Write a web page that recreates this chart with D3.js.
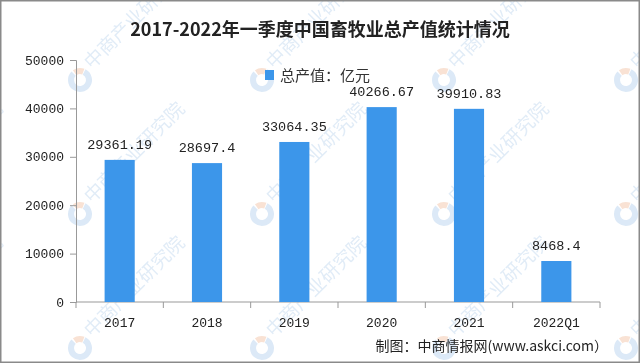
<!DOCTYPE html>
<html><head><meta charset="utf-8">
<script src="https://cdn.jsdelivr.net/npm/d3@7/dist/d3.min.js"></script>
<style>body{margin:0;background:#fff}svg{display:block}</style>
</head><body>
<svg id="c" width="640" height="363"></svg>
<script>
const categories = ["2017","2018","2019","2020","2021","2022Q1"];
const values = [29361.19, 28697.4, 33064.35, 40266.67, 39910.83, 8468.4];
const valueLabels = ["29361.19","28697.4","33064.35","40266.67","39910.83","8468.4"];
const yTicks = [0,10000,20000,30000,40000,50000];
const title = "2017-2022年一季度中国畜牧业总产值统计情况";
const legendLabel = "总产值：亿元";
const source = "制图：中商情报网(www.askci.com）";
const watermark = "中商产业研究院";

const svg = d3.select("#c");
const W = 640, H = 363;
const mono = "'Liberation Mono','DejaVu Sans Mono',monospace";
const cjk = "'Noto Sans CJK SC','Noto Sans',sans-serif";

// tiled watermark
const wmX = [-102, 80, 262, 444, 626];
const wmY = [80, 214, 348];
const wm = svg.append("g").attr("opacity",0.5);
const arcBlue = d3.arc().innerRadius(6).outerRadius(12).startAngle(Math.PI*0.15).endAngle(Math.PI*1.75);
const arcOrange = d3.arc().innerRadius(6).outerRadius(12).startAngle(-Math.PI*0.2).endAngle(Math.PI*0.12);
wmY.forEach(cy=>wmX.forEach(cx=>{
  const g = wm.append("g").attr("transform",`translate(${cx},${cy})`);
  g.append("path").attr("d",arcBlue()).attr("fill","#b9d3ee");
  g.append("path").attr("d",arcOrange()).attr("fill","#f2c4a8");
  g.append("text").attr("transform","translate(12,-10) rotate(-45)")
    .attr("font-family",cjk).attr("font-size",19).attr("fill","#c3d9ef").text(watermark);
}));

const y = d3.scaleLinear().domain([0,50000]).range([302,60]);
const x = d3.scaleBand().domain(categories).range([76,600]).paddingInner(0.655).paddingOuter(0.3275);

// title
svg.append("text").attr("x",320).attr("y",36).attr("text-anchor","middle")
  .attr("font-family",cjk).attr("font-weight","bold").attr("font-size",18).attr("fill","#222")
  .text(title);

// legend
svg.append("rect").attr("x",265).attr("y",70).attr("width",9).attr("height",10).attr("fill","#3c96ea");
svg.append("text").attr("x",280).attr("y",81).attr("font-family",cjk).attr("font-size",15).attr("fill","#333").text(legendLabel);

// y axis
const ya = svg.append("g").attr("transform","translate(76,0)")
  .call(d3.axisLeft(y).tickValues(yTicks).tickSize(6).tickPadding(6).tickFormat(d3.format("d")));
ya.select(".domain").attr("stroke","#999");
ya.selectAll(".tick line").attr("stroke","#999");
ya.selectAll(".tick text").attr("font-family",mono).attr("font-size",13).attr("fill","#222");

// x axis
const xa = svg.append("g");
xa.append("line").attr("x1",76).attr("x2",600).attr("y1",y(0)).attr("y2",y(0)).attr("stroke","#999");
const bounds = categories.map((c,i)=>76 + i*x.step()).concat([600]);
xa.selectAll("line.t").data(bounds).join("line").attr("class","t")
  .attr("x1",d=>d).attr("x2",d=>d).attr("y1",y(0)).attr("y2",y(0)+6).attr("stroke","#999");
xa.selectAll("text").data(categories).join("text")
  .attr("x",d=>x(d)+x.bandwidth()/2).attr("y",327).attr("text-anchor","middle")
  .attr("font-family",mono).attr("font-size",13).attr("fill","#222").text(d=>d);

// bars
svg.append("g").selectAll("rect").data(values).join("rect")
  .attr("x",(d,i)=>x(categories[i])).attr("width",x.bandwidth())
  .attr("y",d=>y(d)).attr("height",d=>y(0)-y(d)).attr("fill","#3c96ea");

// labels
svg.append("g").selectAll("text").data(values).join("text")
  .attr("x",(d,i)=>x(categories[i])+x.bandwidth()/2).attr("y",d=>y(d)-11)
  .attr("text-anchor","middle").attr("font-family",mono).attr("font-size",13.5).attr("fill","#222")
  .text((d,i)=>valueLabels[i]);

// source
svg.append("text").attr("x",608).attr("y",351).attr("text-anchor","end")
  .attr("font-family",cjk).attr("font-size",14).attr("fill","#222").text(source);

// border
svg.append("rect").attr("x",0.75).attr("y",0.75).attr("width",W-1.5).attr("height",H-1.5)
  .attr("fill","none").attr("stroke","#8a8a8a").attr("stroke-width",1.5);
</script>
</body></html>
